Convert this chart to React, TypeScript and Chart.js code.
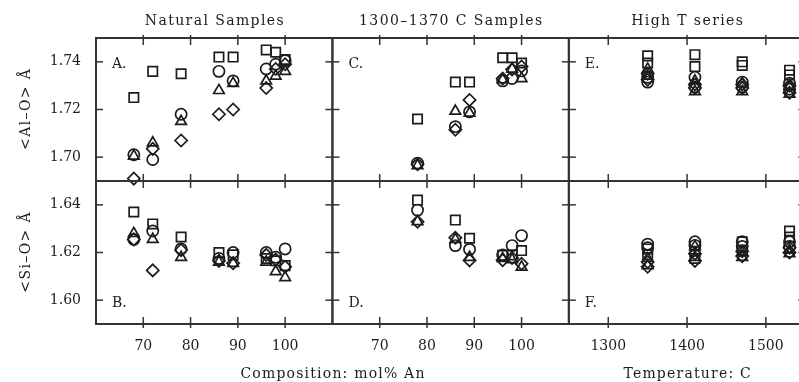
import React, { useEffect, useRef } from "react";
import { Chart, registerables } from "chart.js";

Chart.register(...registerables);

// ---------- data ----------
const compNatural = [68, 72, 78, 86, 89, 96, 98, 100];
const alNatSquare = [1.725, 1.736, 1.735, 1.742, 1.742, 1.745, 1.744, 1.741];
const alNatCircle = [1.701, 1.699, 1.718, 1.736, 1.732, 1.737, 1.739, 1.7405];
const alNatTriangle = [1.7005, 1.706, 1.715, 1.728, 1.731, 1.732, 1.734, 1.736];
const alNatDiamond = [1.691, 1.7035, 1.707, 1.718, 1.72, 1.729, 1.737, 1.739];
const siNatSquare = [1.637, 1.632, 1.6265, 1.62, 1.619, 1.6175, 1.6165, 1.6145];
const siNatCircle = [1.6255, 1.629, 1.6215, 1.6175, 1.62, 1.62, 1.618, 1.6215];
const siNatTriangle = [1.628, 1.6255, 1.618, 1.616, 1.6155, 1.616, 1.612, 1.6095];
const siNatDiamond = [1.6255, 1.6125, 1.621, 1.6165, 1.6155, 1.619, 1.617, 1.614];

const compSynth = [78, 86, 89, 96, 98, 100];
const alSynSquare = [1.716, 1.7315, 1.7315, 1.7417, 1.7417, 1.7395];
const alSynCircle = [1.6975, 1.7128, 1.719, 1.732, 1.733, 1.7362];
const alSynTriangle = [1.6965, 1.7193, 1.7185, 1.7325, 1.737, 1.733];
const alSynDiamond = [1.697, 1.7115, 1.724, 1.733, 1.7368, 1.738];
const siSynSquare = [1.642, 1.6336, 1.626, 1.6188, 1.619, 1.6208];
const siSynCircle = [1.6378, 1.6229, 1.6213, 1.619, 1.6229, 1.6271];
const siSynTriangle = [1.633, 1.6255, 1.618, 1.6175, 1.617, 1.6139];
const siSynDiamond = [1.6329, 1.6262, 1.6167, 1.6168, 1.6177, 1.6153];

const tempHigh = [1350, 1350, 1410, 1410, 1470, 1470, 1530, 1530];
const alHighSquare = [1.7425, 1.7395, 1.743, 1.738, 1.74, 1.7385, 1.7365, 1.7345];
const alHighCircle = [1.7335, 1.7315, 1.7335, 1.7295, 1.7315, 1.7295, 1.731, 1.7285];
const alHighTriangle = [1.737, 1.734, 1.732, 1.7275, 1.731, 1.7275, 1.7295, 1.7265];
const alHighDiamond = [1.735, 1.7325, 1.7305, 1.729, 1.7305, 1.729, 1.73, 1.727];
const siHighSquare = [1.6215, 1.619, 1.6205, 1.6175, 1.6245, 1.621, 1.629, 1.6265];
const siHighCircle = [1.6235, 1.622, 1.6245, 1.623, 1.6245, 1.6225, 1.6245, 1.6225];
const siHighTriangle = [1.6175, 1.6145, 1.6225, 1.618, 1.62, 1.618, 1.621, 1.6195];
const siHighDiamond = [1.616, 1.614, 1.6195, 1.6165, 1.6205, 1.6185, 1.622, 1.62];

const alTicks = [1.7, 1.72, 1.74];
const siTicks = [1.6, 1.62, 1.64];
const compTicks = [70, 80, 90, 100];
const tempTicks = [1300, 1400, 1500];
const panelTitles = ["Natural Samples", "1300\u20131370 C Samples", "High T series"];
const panelLetters = [["A.", "B."], ["C.", "D."], ["E.", "F."]];
const yTitles = ["<Al\u2013O> \u00C5", "<Si\u2013O> \u00C5"];
const xTitles = ["Composition: mol% An", "Temperature: C"];

// ---------- styling ----------
const FONT = "'DejaVu Serif', serif";
const INK = "#1c1c1c";
const CANVAS_W = 830;
const CANVAS_H = 382;

type Sym = { style: string; radius: number };
const SQUARE: Sym = { style: "rect", radius: 6.6 };
const CIRCLE: Sym = { style: "circle", radius: 5.6 };
const TRIANGLE: Sym = { style: "triangle", radius: 6.1 };
const DIAMOND: Sym = { style: "rectRot", radius: 6.1 };

function makeSet(xs: number[], ys: number[], xAxisID: string, yAxisID: string, sym: Sym) {
  return {
    type: "scatter" as const,
    data: xs.map((x, i) => ({ x, y: ys[i] })),
    xAxisID,
    yAxisID,
    pointStyle: sym.style,
    pointRadius: sym.radius,
    pointHoverRadius: sym.radius,
    pointBorderColor: INK,
    pointBackgroundColor: "rgba(0,0,0,0)",
    pointBorderWidth: 1.7,
    showLine: false,
    clip: false,
  };
}

function spacedText(ctx: any, text: string, x: number, y: number, spacing: number) {
  ctx.letterSpacing = `${spacing}px`;
  ctx.fillText(text, x + spacing / 2, y);
  ctx.letterSpacing = "0px";
}

const framePlugin = {
  id: "panelFrames",
  afterDatasetsDraw(chart: any) {
    const ctx = chart.ctx;
    const xs = [chart.scales.xNat, chart.scales.xSyn, chart.scales.xTemp];
    const ys = [chart.scales.yAl, chart.scales.ySi];
    const xTickSets = [compTicks, compTicks, tempTicks];
    const yTickSets = [alTicks, siTicks];
    const line = (a: number, b: number, c: number, d: number) => {
      ctx.beginPath();
      ctx.moveTo(a, b);
      ctx.lineTo(c, d);
      ctx.stroke();
    };
    ctx.save();
    ctx.strokeStyle = "#333333";
    xs.forEach((xsc: any, i: number) => {
      ys.forEach((ysc: any, j: number) => {
        const L = xsc.left, R = xsc.right, T = ysc.top, B = ysc.bottom;
        ctx.lineWidth = 2;
        ctx.strokeRect(L, T, R - L, B - T);
        ctx.lineWidth = 1.5;
        xTickSets[i].forEach((v) => {
          const px = xsc.getPixelForValue(v);
          line(px, T - (j === 0 ? 3 : 0), px, T + 7);
          line(px, B - 7, px, B + (j === 1 ? 4 : 0));
        });
        yTickSets[j].forEach((v) => {
          const py = ysc.getPixelForValue(v);
          line(L - (i === 0 ? 1 : 0), py, L + 7, py);
          line(R - 7, py, R, py);
        });
      });
    });
    ctx.restore();
  },
  afterDraw(chart: any) {
    const ctx = chart.ctx;
    const xs = [chart.scales.xNat, chart.scales.xSyn, chart.scales.xTemp];
    const ys = [chart.scales.yAl, chart.scales.ySi];
    const letterVals = [alTicks[2], siTicks[0]];
    ctx.save();
    ctx.fillStyle = INK;
    ctx.font = `14px ${FONT}`;
    ctx.textAlign = "center";
    ctx.textBaseline = "middle";
    xs.forEach((xsc: any, i: number) => {
      spacedText(ctx, panelTitles[i], (xsc.left + xsc.right) / 2, 21, 1.4);
    });
    // x titles
    spacedText(ctx, xTitles[0], xs[0].right, 374, 1.2);
    spacedText(ctx, xTitles[1], (xs[2].left + xs[2].right) / 2, 374, 1.2);
    // panel letters
    ctx.textAlign = "left";
    xs.forEach((xsc: any, i: number) => {
      ys.forEach((ysc: any, j: number) => {
        ctx.fillText(panelLetters[i][j], xsc.left + 16, ysc.getPixelForValue(letterVals[j]) + 3);
      });
    });
    // y titles
    ctx.textAlign = "center";
    ys.forEach((ysc: any, j: number) => {
      ctx.save();
      ctx.translate(26, (ysc.top + ysc.bottom) / 2);
      ctx.rotate(-Math.PI / 2);
      spacedText(ctx, yTitles[j], 0, 0, 1.4);
      ctx.restore();
    });
    ctx.restore();
  },
};

function yScale(min: number, max: number, ticks: number[], weight: number) {
  return {
    type: "linear" as const,
    position: "left" as const,
    stack: "ys",
    stackWeight: 1,
    weight,
    min,
    max,
    afterFit: (s: any) => {
      s.width = 96;
    },
    afterBuildTicks: (s: any) => {
      s.ticks = ticks.map((v) => ({ value: v }));
    },
    ticks: {
      padding: 15,
      color: INK,
      font: { family: FONT, size: 14 },
      callback: (v: any) => Number(v).toFixed(2),
    },
    grid: { display: true, drawOnChartArea: false, drawTicks: false, color: "rgba(0,0,0,0)" },
    border: { display: false },
  };
}

function xScale(min: number, max: number, ticks: number[]) {
  return {
    type: "linear" as const,
    position: "bottom" as const,
    stack: "xs",
    stackWeight: 1,
    min,
    max,
    afterFit: (s: any) => {
      s.height = CANVAS_H - 324;
    },
    afterBuildTicks: (s: any) => {
      s.ticks = ticks.map((v) => ({ value: v }));
    },
    ticks: {
      padding: 14,
      color: INK,
      maxRotation: 0,
      autoSkip: false,
      font: { family: FONT, size: 14 },
      callback: (v: any) => String(v),
    },
    grid: { display: true, drawOnChartArea: false, drawTicks: false, color: "rgba(0,0,0,0)" },
    border: { display: false },
  };
}

export default function App() {
  const ref = useRef<HTMLCanvasElement | null>(null);
  useEffect(() => {
    if (!ref.current) return;
    const datasets = [
      makeSet(compNatural, alNatSquare, "xNat", "yAl", SQUARE),
      makeSet(compNatural, alNatCircle, "xNat", "yAl", CIRCLE),
      makeSet(compNatural, alNatTriangle, "xNat", "yAl", TRIANGLE),
      makeSet(compNatural, alNatDiamond, "xNat", "yAl", DIAMOND),
      makeSet(compNatural, siNatSquare, "xNat", "ySi", SQUARE),
      makeSet(compNatural, siNatCircle, "xNat", "ySi", CIRCLE),
      makeSet(compNatural, siNatTriangle, "xNat", "ySi", TRIANGLE),
      makeSet(compNatural, siNatDiamond, "xNat", "ySi", DIAMOND),
      makeSet(compSynth, alSynSquare, "xSyn", "yAl", SQUARE),
      makeSet(compSynth, alSynCircle, "xSyn", "yAl", CIRCLE),
      makeSet(compSynth, alSynTriangle, "xSyn", "yAl", TRIANGLE),
      makeSet(compSynth, alSynDiamond, "xSyn", "yAl", DIAMOND),
      makeSet(compSynth, siSynSquare, "xSyn", "ySi", SQUARE),
      makeSet(compSynth, siSynCircle, "xSyn", "ySi", CIRCLE),
      makeSet(compSynth, siSynTriangle, "xSyn", "ySi", TRIANGLE),
      makeSet(compSynth, siSynDiamond, "xSyn", "ySi", DIAMOND),
      makeSet(tempHigh, alHighSquare, "xTemp", "yAl", SQUARE),
      makeSet(tempHigh, alHighCircle, "xTemp", "yAl", CIRCLE),
      makeSet(tempHigh, alHighTriangle, "xTemp", "yAl", TRIANGLE),
      makeSet(tempHigh, alHighDiamond, "xTemp", "yAl", DIAMOND),
      makeSet(tempHigh, siHighSquare, "xTemp", "ySi", SQUARE),
      makeSet(tempHigh, siHighCircle, "xTemp", "ySi", CIRCLE),
      makeSet(tempHigh, siHighTriangle, "xTemp", "ySi", TRIANGLE),
      makeSet(tempHigh, siHighDiamond, "xTemp", "ySi", DIAMOND),
    ];
    const chart = new Chart(ref.current, {
      type: "scatter",
      data: { datasets: datasets as any },
      options: {
        responsive: false,
        animation: false,
        devicePixelRatio: 1,
        layout: { padding: { top: 38, right: CANVAS_W - 807, left: 0, bottom: 0 } },
        plugins: { legend: { display: false }, tooltip: { enabled: false }, title: { display: false } },
        events: [],
        scales: {
          yAl: yScale(1.69, 1.75, alTicks, 2),
          ySi: yScale(1.59, 1.65, siTicks, 1),
          xNat: xScale(60, 110, compTicks),
          xSyn: xScale(60, 110, compTicks),
          xTemp: xScale(1250, 1550, tempTicks),
        } as any,
      },
      plugins: [framePlugin],
    });
    return () => chart.destroy();
  }, []);

  return (
    <div
      style={{
        position: "fixed",
        left: 0,
        top: 0,
        width: 799,
        height: 382,
        overflow: "hidden",
        background: "#fff",
      }}
    >
      <canvas ref={ref} width={CANVAS_W} height={CANVAS_H} style={{ display: "block", width: CANVAS_W, height: CANVAS_H }} />
    </div>
  );
}
